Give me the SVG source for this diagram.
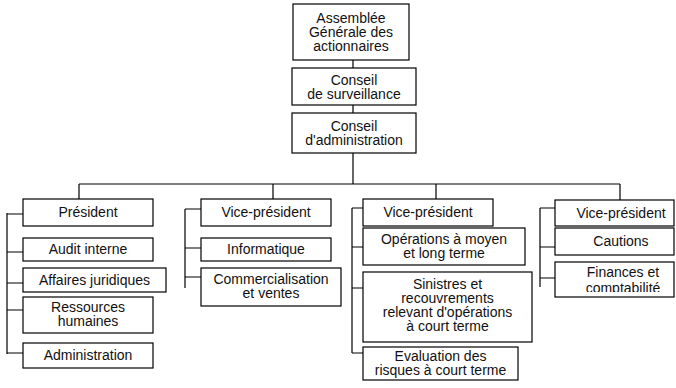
<svg xmlns="http://www.w3.org/2000/svg" width="676" height="388" viewBox="0 0 676 388">
<style>
.box{fill:#fff;stroke:#000;stroke-width:1.2}
.t{font-family:"Liberation Sans",Arial,sans-serif;font-size:14px;fill:#111;text-anchor:middle}
.c{fill:none;stroke:#000;stroke-width:1.2}
</style>
<defs>
<clipPath id="clipFin"><rect x="555" y="262" width="121" height="30"/></clipPath>
</defs>
<rect width="676" height="388" fill="#fff"/>
<g id="connectors" class="c">
<path d="M353 60V68M353 105V113M353 153V184"/>
<path d="M79 184H620"/>
<path d="M79 184V199M273 184V199M436 184V199M620 184V200"/>
<path d="M7 213V354M7 214H23M7 252H23M7 283H23M7 310H23M7 353H23"/>
<path d="M185 209V288M185 209H201M185 248H201M185 277H201"/>
<path d="M352 208V353M352 208H363M352 247H363M352 288H363M352 353H363"/>
<path d="M540 208V287M540 208H555M540 247H555M540 278H555"/>
</g>
<g id="assemblee"><rect class="box" x="293" y="4" width="116" height="56"/><text class="t" x="351"><tspan x="351" y="23">Assemblée</tspan><tspan x="351" y="37">Générale des</tspan><tspan x="351" y="51">actionnaires</tspan></text></g>
<g id="surveillance"><rect class="box" x="292" y="68" width="124" height="37"/><text class="t"><tspan x="354" y="85">Conseil</tspan><tspan x="354" y="99">de surveillance</tspan></text></g>
<g id="administration-conseil"><rect class="box" x="292" y="113" width="124" height="40"/><text class="t"><tspan x="354" y="131">Conseil</tspan><tspan x="354" y="145">d'administration</tspan></text></g>

<g id="president"><rect class="box" x="23" y="199" width="130" height="27"/><text class="t" x="88" y="217">Président</text></g>
<g id="audit"><rect class="box" x="23" y="238" width="130" height="23"/><text class="t" x="88" y="254">Audit interne</text></g>
<g id="affaires"><rect class="box" x="23" y="268" width="143" height="24"/><text class="t" x="94.5" y="285">Affaires juridiques</text></g>
<g id="ressources"><rect class="box" x="23" y="297" width="130" height="36"/><text class="t"><tspan x="88" y="312">Ressources</tspan><tspan x="88" y="326">humaines</tspan></text></g>
<g id="administration"><rect class="box" x="23" y="343" width="130" height="25"/><text class="t" x="88" y="360">Administration</text></g>

<g id="vp1"><rect class="box" x="201" y="199" width="130" height="27"/><text class="t" x="266" y="217">Vice-président</text></g>
<g id="informatique"><rect class="box" x="201" y="238" width="130" height="23"/><text class="t" x="266" y="254">Informatique</text></g>
<g id="commercialisation"><rect class="box" x="201" y="268" width="140" height="38"/><text class="t"><tspan x="271" y="284">Commercialisation</tspan><tspan x="271" y="298">et ventes</tspan></text></g>

<g id="vp2"><rect class="box" x="363" y="199" width="130" height="27"/><text class="t" x="428" y="217">Vice-président</text></g>
<g id="operations"><rect class="box" x="363" y="228" width="162" height="37"/><text class="t"><tspan x="444" y="244">Opérations à moyen</tspan><tspan x="444" y="258">et long terme</tspan></text></g>
<g id="sinistres"><rect class="box" x="363" y="272" width="169" height="70"/><text class="t"><tspan x="447.5" y="289">Sinistres et</tspan><tspan x="447.5" y="303">recouvrements</tspan><tspan x="447.5" y="317">relevant d'opérations</tspan><tspan x="447.5" y="331">à court terme</tspan></text></g>
<g id="evaluation"><rect class="box" x="363" y="347" width="155" height="33"/><text class="t"><tspan x="440.5" y="361">Evaluation des</tspan><tspan x="440.5" y="375">risques à court terme</tspan></text></g>

<g id="vp3"><rect class="box" x="555" y="200" width="119" height="26"/><text class="t" x="621" y="218">Vice-président</text></g>
<g id="cautions"><rect class="box" x="555" y="228" width="119" height="27"/><text class="t" x="621" y="246">Cautions</text></g>
<g id="finances"><rect class="box" x="555" y="262" width="119" height="35"/><text class="t" clip-path="url(#clipFin)"><tspan x="623" y="277">Finances et</tspan><tspan x="623" y="293">comptabilité</tspan></text></g>
</svg>
